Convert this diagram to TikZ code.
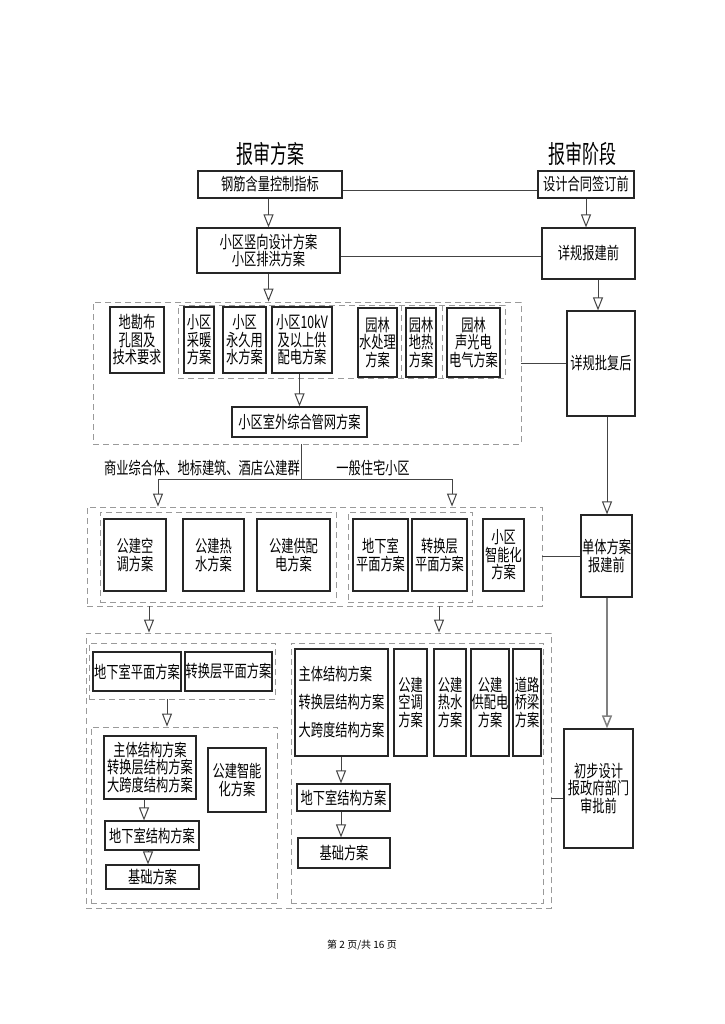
\documentclass[tikz,border=0pt]{standalone}
\usepackage{fontspec}
\usetikzlibrary{arrows.meta}
\newfontfamily\cjk[FakeStretch=0.72]{Noto Sans CJK SC}
\newfontfamily\cjkt[FakeStretch=0.68]{Noto Sans CJK SC}
\newfontfamily\cjkn{Noto Sans CJK SC}
\definecolor{dgray}{HTML}{9A9A9A}
\definecolor{lcol}{HTML}{444444}
\tikzset{
  box/.style={draw=black!85, line width=1.2pt, inner sep=0pt, align=center, text=black,
    font=\cjk\fontsize{17}{17.5}\selectfont},
  dbox/.style={draw=dgray, line width=0.9pt, dash pattern=on 6pt off 4pt, inner sep=0pt},
  lbl/.style={inner sep=0pt, text=black, font=\cjk\fontsize{17}{17.5}\selectfont},
  ttl/.style={inner sep=0pt, text=black, font=\cjkt\fontsize{25}{25}\selectfont},
  conn/.style={draw=lcol, line width=1pt},
  arr/.style={draw=lcol, line width=1pt, -{Triangle[open,width=10pt,length=13pt]}},
  dsep/.style={draw=dgray, line width=0.9pt, dash pattern=on 6pt off 4pt}
}
\newcommand\mybox[7][box]{\node[#1, minimum width={(#5-#3)*1pt}, minimum height={(#6-#4)*1pt}] (#2) at ({(#3+#5)/2},{(#4+#6)/2}) {#7};}
\begin{document}
\begin{tikzpicture}[x=1pt,y=-1pt]
\useasboundingbox[fill=white] (0,0) rectangle (724,1024);
% titles
\node[ttl] (t1) at (270,154) {报审方案};
\node[ttl] (t2) at (582,154) {报审阶段};
% top boxes
\mybox{a1}{198}{171}{342}{198}{钢筋含量控制指标}
\mybox{b1}{538}{171}{634}{198}{设计合同签订前}
\mybox{a2}{197}{228}{340}{273}{小区竖向设计方案\\小区排洪方案}
\mybox{b2}{542}{228}{635}{279}{详规报建前}
% group 1
\mybox[dbox]{G1}{93}{302}{521}{444}{}
\mybox[dbox]{G1i}{178}{305}{505}{378}{}
\coordinate (s1a) at (401,305); \coordinate (s1b) at (401,378);
\coordinate (s2a) at (442,305); \coordinate (s2b) at (442,378);
\draw[dsep] (s1a) -- (s1b);
\draw[dsep] (s2a) -- (s2b);
\mybox{g1}{110}{307}{164}{373}{地勘布\\孔图及\\技术要求}
\mybox{c1}{184}{307}{214}{373}{小区\\采暖\\方案}
\mybox{c2}{223}{307}{266}{373}{小区\\永久用\\水方案}
\mybox{c3}{272}{307}{332}{373}{小区10kV\\及以上供\\配电方案}
\mybox{c4}{358}{308}{397}{377}{园林\\水处理\\方案}
\mybox{c5}{406}{308}{436}{377}{园林\\地热\\方案}
\mybox{c6}{447}{308}{500}{377}{园林\\声光电\\电气方案}
\mybox{c7}{232}{407}{367}{437}{小区室外综合管网方案}
\mybox{b3}{567}{311}{635}{416}{详规批复后}
% labels
\node[lbl] (l1) at (202,468) {商业综合体、地标建筑、酒店公建群};
\node[lbl] (l2) at (373,468) {一般住宅小区};
% group 2
\mybox[dbox]{G2}{87}{507}{542}{606}{}
\mybox[dbox]{G2a}{100}{512}{336}{602}{}
\mybox[dbox]{G2b}{348}{512}{472}{602}{}
\mybox{d1}{104}{519}{166}{591}{公建空\\调方案}
\mybox{d2}{183}{519}{244}{591}{公建热\\水方案}
\mybox{d3}{257}{519}{330}{591}{公建供配\\电方案}
\mybox{d4}{353}{519}{408}{591}{地下室\\平面方案}
\mybox{d5}{412}{519}{467}{591}{转换层\\平面方案}
\mybox{d6}{483}{519}{524}{591}{小区\\智能化\\方案}
\mybox{b4}{581}{515}{632}{597}{单体方案\\报建前}
% group 3
\mybox[dbox]{G3}{86}{633}{551}{908}{}
\mybox[dbox]{G3a}{89}{643}{275}{699}{}
\mybox[dbox]{G3b}{91}{727}{277}{903}{}
\mybox[dbox]{G3c}{291}{643}{543}{903}{}
\mybox{e1}{93}{652}{181}{691}{地下室平面方案}
\mybox{e2}{185}{652}{272}{691}{转换层平面方案}
\mybox{e3}{104}{736}{196}{799}{主体结构方案\\转换层结构方案\\大跨度结构方案}
\mybox{e4}{208}{748}{266}{812}{公建智能\\化方案}
\mybox{e5}{105}{821}{199}{850}{地下室结构方案}
\mybox{e6}{106}{865}{199}{889}{基础方案}
\mybox[box,align=left,font=\cjk\fontsize{17}{28}\selectfont]{f1}{295}{649}{388}{756}{主体结构方案\\转换层结构方案\\大跨度结构方案}
\mybox{f2}{394}{649}{427}{756}{公建\\空调\\方案}
\mybox{f3}{434}{649}{466}{756}{公建\\热水\\方案}
\mybox{f4}{471}{649}{509}{756}{公建\\供配电\\方案}
\mybox{f5}{513}{649}{541}{756}{道路\\桥梁\\方案}
\mybox{f6}{297}{784}{390}{811}{地下室结构方案}
\mybox{f7}{298}{838}{390}{868}{基础方案}
\mybox{b5}{564}{729}{633}{848}{初步设计\\报政府部门\\审批前}
% footer
\node[inner sep=0pt, font=\cjkn\fontsize{10}{11}\selectfont] (ft) at (362,945) {第 2 页/共 16 页};
% coordinates
\coordinate (y191) at (0,191);
\coordinate (y256) at (0,256);
\coordinate (x598) at (598,0);
\coordinate (x607) at (607,0);
\coordinate (sp) at (301,479);
\coordinate (spL) at (158,479);
\coordinate (spR) at (452,479);
\coordinate (x149) at (149,0);
\coordinate (x439) at (439,0);
\coordinate (y798) at (0,798);
\coordinate (x167) at (167,0);
\coordinate (x144) at (144,0);
\coordinate (x148) at (148,0);
\coordinate (x341) at (341,0);
% connectors
\draw[conn] (a1.east |- y191) -- (b1.west |- y191);
\draw[conn] (a2.east |- y256) -- (b2.west |- y256);
\draw[arr] (a1.south -| a2.north) -- (a2.north);
\draw[arr] (a2.south) -- (a2.south |- G1.north);
\draw[arr] (b1.south) -- (b1.south |- b2.north);
\draw[arr] (b2.south -| x598) -- (b3.north -| x598);
\draw[arr] (c3.south -| c7.north) -- (c7.north);
\draw[conn] (G1.east |- b3.west) -- (b3.west);
\draw[conn] (G1.south -| sp) -- (sp);
\draw[arr] (sp) -| (G2.north -| spL);
\draw[arr] (sp) -| (G2.north -| spR);
\draw[arr] (b3.south -| x607) -- (b4.north -| x607);
\draw[conn] (G2.east |- b4.west) -- (b4.west);
\draw[arr] (G2.south -| x149) -- (G3.north -| x149);
\draw[arr] (G2.south -| x439) -- (G3.north -| x439);
\draw[arr, draw=gray, line width=1.5pt] (b4.south -| x607) -- (b5.north -| x607);
\draw[conn] (G3.east |- y798) -- (b5.west |- y798);
\draw[arr] (G3a.south -| x167) -- (G3b.north -| x167);
\draw[arr] (e3.south -| x144) -- (e5.north -| x144);
\draw[arr] (e5.south -| x148) -- (e6.north -| x148);
\draw[arr] (f1.south -| x341) -- (f6.north -| x341);
\draw[arr] (f6.south -| x341) -- (f7.north -| x341);
\end{tikzpicture}
\end{document}
